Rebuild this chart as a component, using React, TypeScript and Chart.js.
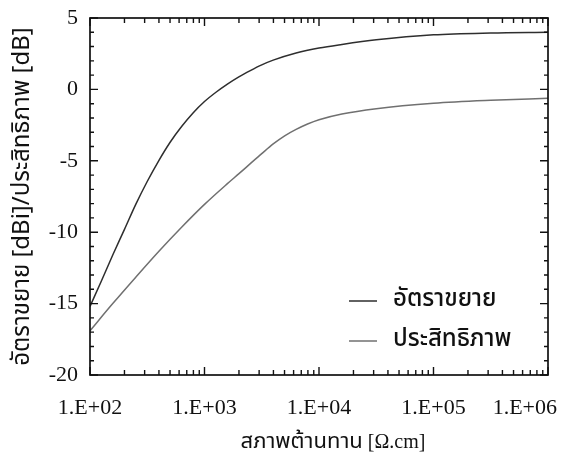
import React, { useEffect, useRef } from "react";
import { Chart, registerables } from "chart.js";

Chart.register(...registerables);

// Resistivity [Ω.cm] sample points (log scale) and values
const gainX = [100, 126, 158, 200, 251, 316, 398, 501, 631, 794, 1000, 1259, 1585, 1995, 2512, 3162, 3981, 6310, 10000, 15850, 31620, 100000, 316200, 1000000];
const gainY = [-15.2, -13.4, -11.6, -9.8, -8.05, -6.45, -5.0, -3.7, -2.6, -1.65, -0.85, -0.2, 0.37, 0.88, 1.32, 1.72, 2.05, 2.55, 2.9, 3.15, 3.47, 3.82, 3.95, 4.0];
const effX = [100, 158, 251, 398, 631, 1000, 1585, 2000, 2512, 3162, 3981, 5012, 6310, 7943, 10000, 15850, 31620, 100000, 316200, 1000000];
const effY = [-16.9, -15.0, -13.15, -11.35, -9.65, -8.05, -6.6, -5.9, -5.2, -4.5, -3.82, -3.25, -2.8, -2.42, -2.12, -1.72, -1.35, -0.97, -0.76, -0.62];

const seriesNames = ["อัตราขยาย", "ประสิทธิภาพ"];
const seriesColors = ["#2e2e2e", "#707070"];

const xLabelTicks = [100, 1000, 10000, 100000, 1000000];
const yLabelTicks = [-20, -15, -10, -5, 0, 5];
const yMinorStep = 1;

const xTitleThai = "สภาพต้านทาน";
const xTitleUnit = " [Ω.cm]";
const yTitle = "อัตราขยาย [dBi]/ประสิทธิภาพ [dB]";

const THAI_FONT = '"Noto Sans Thai", "Noto Sans", "DejaVu Sans", sans-serif';
const SERIF_FONT = '"Liberation Serif", "Times New Roman", serif';

const fmtSci = (v: number) => {
  const e = Math.round(Math.log10(v));
  return "1.E+" + String(e).padStart(2, "0");
};

const framePlugin = {
  id: "frameTicks",
  afterDraw(chart: any) {
    const { ctx, chartArea } = chart;
    const { left, right, top, bottom } = chartArea;
    const xs = chart.scales.x;
    const ys = chart.scales.y;
    ctx.save();
    ctx.strokeStyle = "#111";
    ctx.lineWidth = 1.7;
    ctx.strokeRect(left, top, right - left, bottom - top);
    ctx.lineWidth = 1.4;
    for (let e = 2; e <= 6; e++) {
      for (let s = 1; s <= 9; s++) {
        const v = s * Math.pow(10, e);
        if (v > 1e6) break;
        const px = xs.getPixelForValue(v);
        const len = s === 1 ? 8 : 5;
        ctx.beginPath();
        ctx.moveTo(px, bottom);
        ctx.lineTo(px, bottom - len);
        ctx.moveTo(px, top);
        ctx.lineTo(px, top + len);
        ctx.stroke();
      }
    }
    for (let v = -20; v <= 5; v += yMinorStep) {
      const py = ys.getPixelForValue(v);
      const len = v % 5 === 0 ? 8 : 4;
      ctx.beginPath();
      ctx.moveTo(left, py);
      ctx.lineTo(left + len, py);
      ctx.moveTo(right, py);
      ctx.lineTo(right - len, py);
      ctx.stroke();
    }
    // x tick labels, kept inside the canvas at the right end
    ctx.fillStyle = "#111";
    ctx.font = "22px " + SERIF_FONT;
    ctx.textBaseline = "middle";
    ctx.textAlign = "center";
    const cw = chart.width;
    xLabelTicks.forEach((v) => {
      const txt = fmtSci(v);
      const w = ctx.measureText(txt).width;
      let cx = xs.getPixelForValue(v);
      cx = Math.min(cx, cw - 9 - w / 2);
      ctx.fillText(txt, cx, bottom + 33);
    });
    ctx.restore();
  },
};

const legendPlugin = {
  id: "innerLegend",
  afterDraw(chart: any) {
    const { ctx, chartArea } = chart;
    ctx.save();
    chart.data.datasets.forEach((ds: any, i: number) => {
      const y = chartArea.bottom - 74 + i * 40;
      const x0 = chartArea.right - 199;
      ctx.strokeStyle = ds.borderColor;
      ctx.lineWidth = 1.5;
      ctx.beginPath();
      ctx.moveTo(x0, y);
      ctx.lineTo(x0 + 28, y);
      ctx.stroke();
      ctx.fillStyle = "#111";
      ctx.font = "500 24px " + THAI_FONT;
      ctx.textBaseline = "middle";
      ctx.textAlign = "left";
      ctx.fillText(ds.label, x0 + 44, y);
    });
    ctx.restore();
  },
};

const xTitlePlugin = {
  id: "xTitle",
  afterDraw(chart: any) {
    const { ctx, chartArea } = chart;
    ctx.save();
    ctx.fillStyle = "#111";
    ctx.textBaseline = "alphabetic";
    ctx.font = "22px " + THAI_FONT;
    const w1 = ctx.measureText(xTitleThai).width;
    ctx.font = "20px " + SERIF_FONT;
    const w2 = ctx.measureText(xTitleUnit).width;
    const cx = (chartArea.left + chartArea.right) / 2 + 14;
    const x = cx - (w1 + w2) / 2;
    const y = chartArea.bottom + 73;
    ctx.textAlign = "left";
    ctx.font = "22px " + THAI_FONT;
    ctx.fillText(xTitleThai, x, y);
    ctx.font = "20px " + SERIF_FONT;
    ctx.fillText(xTitleUnit, x + w1, y);
    ctx.restore();
  },
};

export default function App() {
  const ref = useRef<HTMLCanvasElement | null>(null);
  useEffect(() => {
    if (!ref.current) return;
    const chart = new Chart(ref.current, {
      type: "line",
      data: {
        datasets: [
          {
            label: seriesNames[0],
            data: gainX.map((x, i) => ({ x, y: gainY[i] })),
            borderColor: seriesColors[0],
            borderWidth: 1.5,
            pointRadius: 0,
            cubicInterpolationMode: "monotone",
            fill: false,
          },
          {
            label: seriesNames[1],
            data: effX.map((x, i) => ({ x, y: effY[i] })),
            borderColor: seriesColors[1],
            borderWidth: 1.5,
            pointRadius: 0,
            cubicInterpolationMode: "monotone",
            fill: false,
          },
        ],
      },
      options: {
        animation: false,
        responsive: false,
        devicePixelRatio: 1,
        layout: { padding: { top: 18, right: 18, left: 0, bottom: 0 } },
        plugins: { legend: { display: false }, tooltip: { enabled: false } },
        scales: {
          x: {
            type: "logarithmic",
            min: 100,
            max: 1000000,
            grid: { display: false, drawTicks: false },
            border: { display: false },
            afterBuildTicks: (s: any) => {
              s.ticks = xLabelTicks.map((v) => ({ value: v }));
            },
            afterFit: (s: any) => {
              s.height = 94;
              s.paddingLeft = 0;
              s.paddingRight = 0;
            },
            ticks: { display: false },
          },
          y: {
            type: "linear",
            min: -20,
            max: 5,
            grid: { display: false, drawTicks: false },
            border: { display: false },
            afterBuildTicks: (s: any) => {
              s.ticks = yLabelTicks.map((v) => ({ value: v }));
            },
            afterFit: (s: any) => {
              s.width = 90;
              s.paddingTop = 0;
              s.paddingBottom = 0;
            },
            ticks: {
              padding: 12,
              color: "#111",
              font: { family: SERIF_FONT, size: 22 },
            },
            title: {
              display: true,
              text: yTitle,
              color: "#111",
              font: { family: THAI_FONT, size: 24 },
              padding: { top: 10, bottom: 0 },
            },
          },
        },
      },
      plugins: [framePlugin, legendPlugin, xTitlePlugin],
    } as any);
    return () => chart.destroy();
  }, []);
  return (
    <div style={{ position: "absolute", left: 0, top: 0, width: 566, height: 469, background: "#fff" }}>
      <canvas ref={ref} width={566} height={469} />
    </div>
  );
}
